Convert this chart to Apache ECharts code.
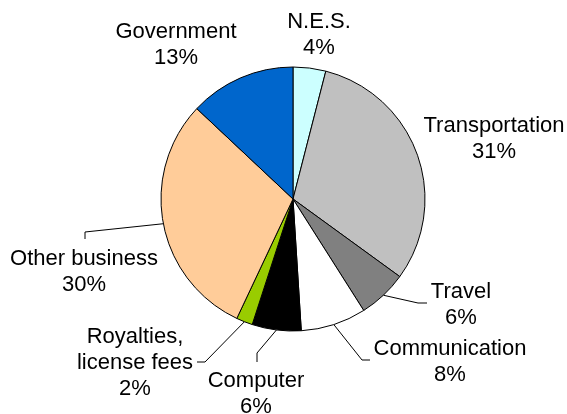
<!DOCTYPE html>
<html>
<head>
<meta charset="utf-8">
<style>
  html, body { margin: 0; padding: 0; background: #ffffff; }
  #chart { width: 567px; height: 414px; }
</style>
<script src="https://cdn.jsdelivr.net/npm/echarts@6/dist/echarts.min.js"></script>
</head>
<body>
<div id="chart"></div>
<script>
// Service categories, clockwise from 12 o'clock, and their shares (%)
const categories = ['N.E.S.', 'Transportation', 'Travel', 'Communication', 'Computer',
  'Royalties,\nlicense fees', 'Other business', 'Government'];
const shares = [4, 31, 6, 8, 6, 2, 30, 13];
const colors = ['#CCFFFF', '#C0C0C0', '#808080', '#FFFFFF', '#000000', '#99CC00', '#FFCC99', '#0066CC'];

// Label placement: text centre and the bend points of each leader line
const labelPlacement = {
  'N.E.S.': { x: 319, y: 35 },
  'Transportation': { x: 494, y: 139 },
  'Travel': { x: 461, y: 305, line: [[418, 303], [427, 303]] },
  'Communication': { x: 450, y: 362, line: [[362, 360], [370, 360]] },
  'Computer': { x: 256, y: 394, line: [[257, 353], [257, 362]] },
  'Royalties,\nlicense fees': { x: 135, y: 363, line: [[205, 362], [197, 362]] },
  'Other business': { x: 84, y: 272, line: [[85, 232], [85, 239]] },
  'Government': { x: 176, y: 45 }
};

const chart = echarts.init(document.getElementById('chart'), null, { renderer: 'canvas' });

const data = categories.map((name, i) => ({
  name: name,
  value: shares[i],
  itemStyle: { color: colors[i] },
  labelLine: { show: !!labelPlacement[name].line }
}));

chart.setOption({
  backgroundColor: '#ffffff',
  animation: false,
  series: [{
    type: 'pie',
    center: [293, 199],
    radius: 132,
    startAngle: 90,
    clockwise: true,
    avoidLabelOverlap: false,
    data: data,
    itemStyle: { borderColor: '#000000', borderWidth: 1 },
    emphasis: { disabled: true },
    label: {
      show: true,
      position: 'outside',
      formatter: p => p.name + '\n' + Math.round(p.value) + '%',
      fontFamily: 'Liberation Sans, Arial, sans-serif',
      fontSize: 22,
      lineHeight: 26,
      color: '#000000',
      align: 'center'
    },
    labelLine: {
      show: true,
      length: 10,
      length2: 10,
      lineStyle: { color: '#000000', width: 1 }
    },
    labelLayout: function (params) {
      const place = labelPlacement[categories[params.dataIndex]];
      const out = { x: place.x, y: place.y, align: 'center', verticalAlign: 'middle' };
      if (place.line && params.labelLinePoints) {
        const start = params.labelLinePoints[0];
        out.labelLinePoints = [start].concat(place.line);
      }
      return out;
    }
  }]
});
</script>
</body>
</html>
